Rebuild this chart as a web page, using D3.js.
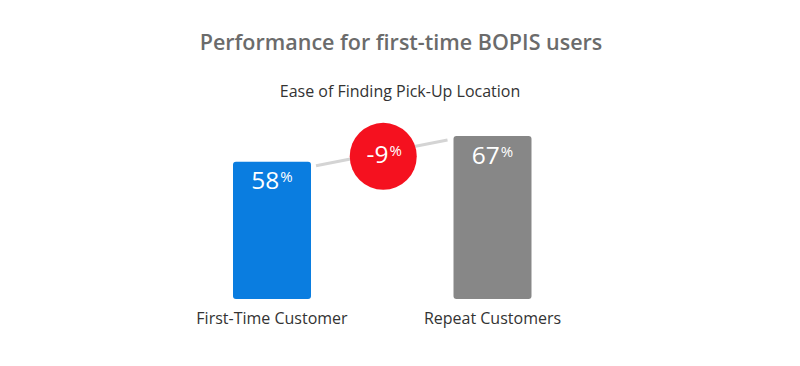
<!DOCTYPE html>
<html>
<head>
<meta charset="utf-8">
<script src="https://cdn.jsdelivr.net/npm/d3@7"></script>
<style>
  html, body { margin: 0; padding: 0; background: #ffffff; }
  svg { display: block; }
  text { font-family: "Open Sans", Lato, sans-serif; }
</style>
</head>
<body>
<svg id="chart" width="800" height="366"></svg>
<script>
const title = "Performance for first-time BOPIS users";
const subtitle = "Ease of Finding Pick-Up Location";
const categories = ["First-Time Customer", "Repeat Customers"];
const values = [58, 67];
const colors = ["#0a7de0", "#878787"];
const diffLabel = "-9";

const svg = d3.select("#chart");
const W = 800, H = 366;
svg.append("rect").attr("width", W).attr("height", H).attr("fill", "#fff");

const x = d3.scalePoint().domain(categories).range([272, 492.5]);
const y = d3.scaleLinear().domain([10, 67]).range([299, 136]);
const barW = 78;

svg.append("text").attr("x", 401).attr("y", 50).attr("text-anchor", "middle")
  .attr("fill", "#6b6b6b").attr("font-size", 21.5).attr("font-weight", 600).text(title);
svg.append("text").attr("x", 400).attr("y", 97).attr("text-anchor", "middle")
  .attr("fill", "#333").attr("font-size", 16).text(subtitle);

// connector line
const p0 = [x(categories[0]) + barW / 2 + 5, y(values[0]) + 4];
const p1 = [x(categories[1]) - barW / 2 - 6, y(values[1]) + 4];
svg.append("line").attr("x1", p0[0]).attr("y1", p0[1]).attr("x2", p1[0]).attr("y2", p1[1])
  .attr("stroke", "#d4d4d4").attr("stroke-width", 3);

// bars
svg.selectAll("rect.bar").data(categories).join("rect").attr("class", "bar")
  .attr("x", d => x(d) - barW / 2).attr("y", (d, i) => y(values[i]))
  .attr("width", barW).attr("height", (d, i) => y(10) - y(values[i]))
  .attr("rx", 3).attr("fill", (d, i) => colors[i]);

// value labels
const vl = svg.selectAll("text.val").data(categories).join("text").attr("class", "val")
  .attr("x", d => x(d)).attr("y", (d, i) => y(values[i]) + 27.5)
  .attr("text-anchor", "middle").attr("fill", "#fff").attr("font-size", 24.5);
vl.append("tspan").text((d, i) => values[i]);
vl.append("tspan").attr("font-size", 15).attr("dy", -7).attr("dx", 1).text("%");

// category labels
svg.selectAll("text.cat").data(categories).join("text").attr("class", "cat")
  .attr("x", d => x(d)).attr("y", 324).attr("text-anchor", "middle")
  .attr("fill", "#333").attr("font-size", 16).text(d => d);

// difference circle
const cx = (p0[0] + p1[0]) / 2 + 1.5, cy = (p0[1] + p1[1]) / 2 + 3.5;
svg.append("circle").attr("cx", cx).attr("cy", cy).attr("r", 33.5).attr("fill", "#f5111f");
const dt = svg.append("text").attr("x", cx + 1).attr("y", cy + 6.5).attr("text-anchor", "middle")
  .attr("fill", "#fff").attr("font-size", 24.5);
dt.append("tspan").text(diffLabel);
dt.append("tspan").attr("font-size", 15).attr("dy", -7).attr("dx", 1).text("%");
</script>
</body>
</html>
